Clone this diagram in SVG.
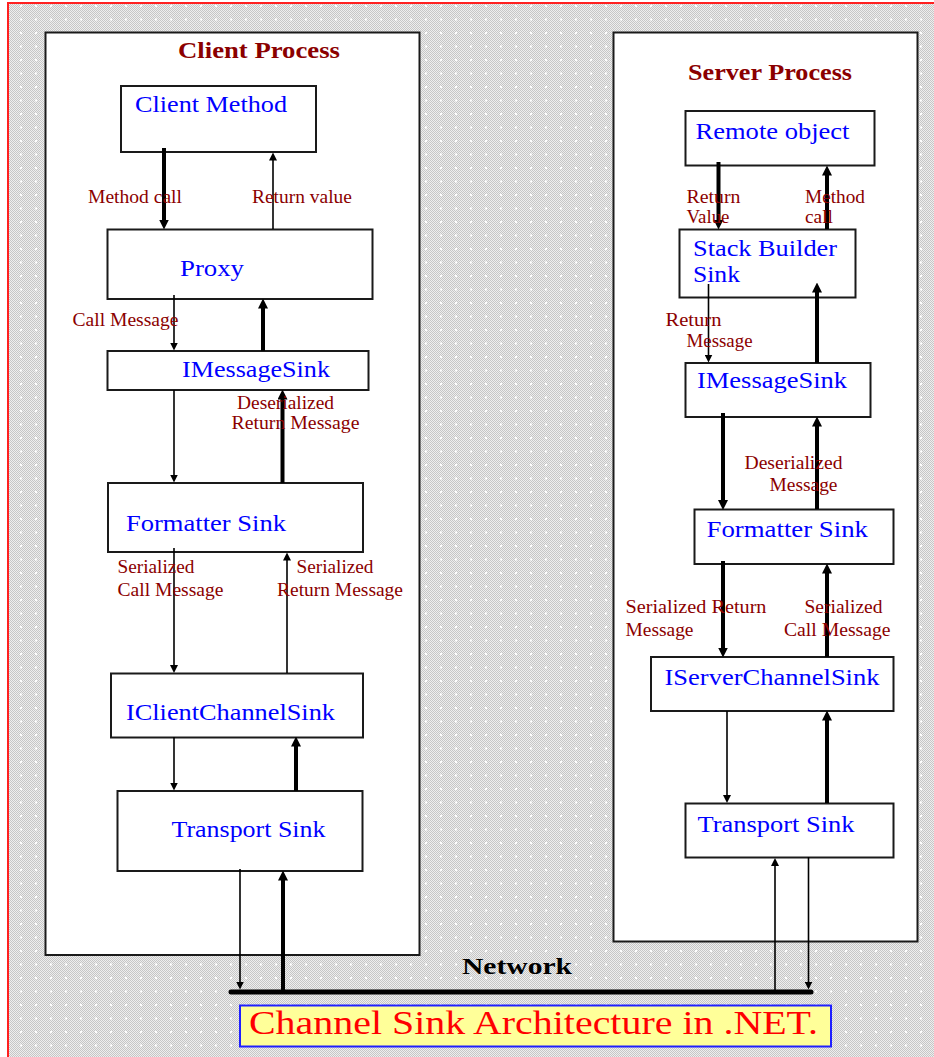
<svg xmlns="http://www.w3.org/2000/svg" width="934" height="1057" viewBox="0 0 934 1057">
<style>
.box{fill:#ffffff;stroke:#1a1a1a;stroke-width:2}
.nt{font-family:"Liberation Serif","Times New Roman",serif;font-size:23px;fill:#0000ff}
.lb{font-family:"Liberation Serif","Times New Roman",serif;font-size:18px;fill:#8b0000}
.tt{font-family:"Liberation Serif","Times New Roman",serif;font-size:23px;font-weight:bold;fill:#8b0000}
.thin{stroke:#000;stroke-width:1.6;fill:none;marker-end:url(#ah)}
.thick{stroke:#000;stroke-width:4;fill:none;marker-end:url(#ahb)}
</style>
<defs>
<pattern id="dither" width="2" height="2" patternUnits="userSpaceOnUse">
<rect width="2" height="2" fill="#eeeeee"/>
<rect width="1" height="1" fill="#c6c6c6"/>
<rect x="1" y="1" width="1" height="1" fill="#c6c6c6"/>
</pattern>
<pattern id="dots" width="15" height="13.5" patternUnits="userSpaceOnUse" x="5" y="5">
<rect x="0" y="0" width="2" height="2" fill="#ffffff"/>
</pattern>
<marker id="ah" viewBox="0 0 10 10" markerWidth="8" markerHeight="8" refX="5" refY="5" orient="auto" markerUnits="userSpaceOnUse">
<path d="M0,0 L10,5 L0,10 z" fill="#000"/>
</marker>
<marker id="ahb" viewBox="0 0 10 10" markerWidth="10" markerHeight="10" refX="5" refY="5" orient="auto" markerUnits="userSpaceOnUse">
<path d="M0,0 L10,5 L0,10 z" fill="#000"/>
</marker>
</defs>
<rect width="934" height="1057" fill="#ffffff"/>
<rect x="8" y="3" width="940" height="1070" fill="url(#dither)"/>
<rect x="8" y="3" width="940" height="1070" fill="url(#dots)"/>
<rect x="8" y="3" width="940" height="1070" fill="none" stroke="#ff2020" stroke-width="2"/>

<g id="client-process">
<rect class="box" x="45.5" y="32.5" width="374" height="922.5"/>
<text class="tt" x="178" y="58" textLength="162" lengthAdjust="spacingAndGlyphs">Client Process</text>
</g>
<g id="server-process">
<rect class="box" x="613.5" y="32.5" width="304" height="909"/>
<text class="tt" x="688" y="80" textLength="164" lengthAdjust="spacingAndGlyphs">Server Process</text>
</g>

<g id="client-method">
<rect class="box" x="121" y="86" width="195" height="66"/>
<text class="nt" x="135" y="112" textLength="152" lengthAdjust="spacingAndGlyphs">Client Method</text>
</g>
<g id="proxy">
<rect class="box" x="107.5" y="229.5" width="265" height="69.5"/>
<text class="nt" x="180" y="276" textLength="64" lengthAdjust="spacingAndGlyphs">Proxy</text>
</g>
<g id="client-imessagesink">
<rect class="box" x="107.5" y="351" width="261" height="39"/>
<text class="nt" x="182" y="377" textLength="148" lengthAdjust="spacingAndGlyphs">IMessageSink</text>
</g>
<g id="client-formatter">
<rect class="box" x="108" y="483" width="255" height="69"/>
<text class="nt" x="126" y="531" textLength="160" lengthAdjust="spacingAndGlyphs">Formatter Sink</text>
</g>
<g id="iclientchannelsink">
<rect class="box" x="111" y="673.5" width="252" height="64"/>
<text class="nt" x="126" y="720" textLength="209" lengthAdjust="spacingAndGlyphs">IClientChannelSink</text>
</g>
<g id="client-transport">
<rect class="box" x="117.5" y="791" width="245" height="80"/>
<text class="nt" x="171.5" y="837" textLength="154" lengthAdjust="spacingAndGlyphs">Transport Sink</text>
</g>

<g id="remote-object">
<rect class="box" x="685.5" y="111" width="189" height="54.5"/>
<text class="nt" x="695.5" y="139" textLength="154" lengthAdjust="spacingAndGlyphs">Remote object</text>
</g>
<g id="stack-builder-sink">
<rect class="box" x="679.5" y="229.5" width="176" height="68"/>
<text class="nt" x="693" y="256" textLength="144" lengthAdjust="spacingAndGlyphs">Stack Builder</text>
<text class="nt" x="693" y="282" textLength="47" lengthAdjust="spacingAndGlyphs">Sink</text>
</g>
<g id="server-imessagesink">
<rect class="box" x="685.5" y="363" width="185" height="54"/>
<text class="nt" x="697" y="388" textLength="150" lengthAdjust="spacingAndGlyphs">IMessageSink</text>
</g>
<g id="server-formatter">
<rect class="box" x="694.5" y="509.5" width="199" height="54.5"/>
<text class="nt" x="706.5" y="537" textLength="161.5" lengthAdjust="spacingAndGlyphs">Formatter Sink</text>
</g>
<g id="iserverchannelsink">
<rect class="box" x="651" y="657" width="242.5" height="54"/>
<text class="nt" x="664.5" y="685" textLength="215" lengthAdjust="spacingAndGlyphs">IServerChannelSink</text>
</g>
<g id="server-transport">
<rect class="box" x="685.5" y="803.5" width="208" height="54"/>
<text class="nt" x="697.5" y="832" textLength="157" lengthAdjust="spacingAndGlyphs">Transport Sink</text>
</g>

<g id="connectors">
<line class="thick" x1="164" y1="148" x2="164" y2="224.5"/>
<line class="thin" x1="273" y1="229" x2="273" y2="156.5"/>
<line class="thin" x1="174" y1="295" x2="174" y2="346.5"/>
<line class="thick" x1="263" y1="351" x2="263" y2="303.5"/>
<line class="thin" x1="174" y1="390" x2="174" y2="478.5"/>
<line class="thick" x1="282.5" y1="483" x2="282.5" y2="394.5"/>
<line class="thin" x1="174" y1="548" x2="174" y2="669"/>
<line class="thin" x1="287" y1="673" x2="287" y2="556.5"/>
<line class="thin" x1="174" y1="737" x2="174" y2="786.5"/>
<line class="thick" x1="296" y1="791" x2="296" y2="741.5"/>
<line class="thin" x1="240" y1="869" x2="240" y2="985.5"/>
<line class="thick" x1="283" y1="990" x2="283" y2="875.5"/>

<line class="thick" x1="718.5" y1="162" x2="718.5" y2="224.5"/>
<line class="thick" x1="827" y1="229" x2="827" y2="170.5"/>
<line class="thin" x1="708.5" y1="284" x2="708.5" y2="358.5"/>
<line class="thick" x1="817" y1="363" x2="817" y2="287.5"/>
<line class="thick" x1="723" y1="413" x2="723" y2="505"/>
<line class="thick" x1="817" y1="509" x2="817" y2="421.5"/>
<line class="thick" x1="723" y1="561" x2="723" y2="652.5"/>
<line class="thick" x1="827" y1="657" x2="827" y2="568.5"/>
<line class="thin" x1="727" y1="711" x2="727" y2="799"/>
<line class="thick" x1="827" y1="803" x2="827" y2="715.5"/>
<line class="thin" x1="775" y1="990" x2="775" y2="862"/>
<line class="thin" x1="808.5" y1="857" x2="808.5" y2="985.5"/>

<line x1="231" y1="992" x2="811" y2="992" stroke="#000" stroke-width="5" stroke-linecap="round"/>
</g>

<g id="labels">
<text class="lb" x="88" y="203" textLength="94" lengthAdjust="spacingAndGlyphs">Method call</text>
<text class="lb" x="252" y="203" textLength="100" lengthAdjust="spacingAndGlyphs">Return value</text>
<text class="lb" x="72.5" y="326" textLength="106" lengthAdjust="spacingAndGlyphs">Call Message</text>
<text class="lb" x="237" y="409" textLength="97" lengthAdjust="spacingAndGlyphs">Deserialized</text>
<text class="lb" x="231.5" y="429" textLength="128" lengthAdjust="spacingAndGlyphs">Return Message</text>
<text class="lb" x="117.5" y="573" textLength="77" lengthAdjust="spacingAndGlyphs">Serialized</text>
<text class="lb" x="117.5" y="596" textLength="106" lengthAdjust="spacingAndGlyphs">Call Message</text>
<text class="lb" x="296.5" y="573" textLength="77" lengthAdjust="spacingAndGlyphs">Serialized</text>
<text class="lb" x="277" y="596" textLength="126" lengthAdjust="spacingAndGlyphs">Return Message</text>

<text class="lb" x="686.5" y="203" textLength="54" lengthAdjust="spacingAndGlyphs">Return</text>
<text class="lb" x="686.5" y="223" textLength="43" lengthAdjust="spacingAndGlyphs">Value</text>
<text class="lb" x="805" y="203" textLength="60" lengthAdjust="spacingAndGlyphs">Method</text>
<text class="lb" x="805" y="223" textLength="28" lengthAdjust="spacingAndGlyphs">call</text>
<text class="lb" x="665.5" y="326" textLength="56" lengthAdjust="spacingAndGlyphs">Return</text>
<text class="lb" x="686.5" y="347" textLength="66" lengthAdjust="spacingAndGlyphs">Message</text>
<text class="lb" x="744.5" y="469" textLength="98" lengthAdjust="spacingAndGlyphs">Deserialized</text>
<text class="lb" x="769.5" y="491" textLength="68" lengthAdjust="spacingAndGlyphs">Message</text>
<text class="lb" x="625.5" y="613" textLength="141" lengthAdjust="spacingAndGlyphs">Serialized Return</text>
<text class="lb" x="625.5" y="636" textLength="68" lengthAdjust="spacingAndGlyphs">Message</text>
<text class="lb" x="804.5" y="613" textLength="78" lengthAdjust="spacingAndGlyphs">Serialized</text>
<text class="lb" x="784" y="636" textLength="106.5" lengthAdjust="spacingAndGlyphs">Call Message</text>
</g>

<g id="network">
<text x="462" y="974" textLength="110" lengthAdjust="spacingAndGlyphs" style="font-family:'Liberation Serif','Times New Roman',serif;font-size:23px;font-weight:bold;fill:#000">Network</text>
</g>

<g id="caption">
<rect x="240" y="1005.5" width="591" height="41" fill="#ffff99" stroke="#2020ff" stroke-width="2"/>
<text x="249" y="1034" textLength="569" lengthAdjust="spacingAndGlyphs" style="font-family:'Liberation Serif','Times New Roman',serif;font-size:34px;fill:#ff0000">Channel Sink Architecture in .NET.</text>
</g>
</svg>
